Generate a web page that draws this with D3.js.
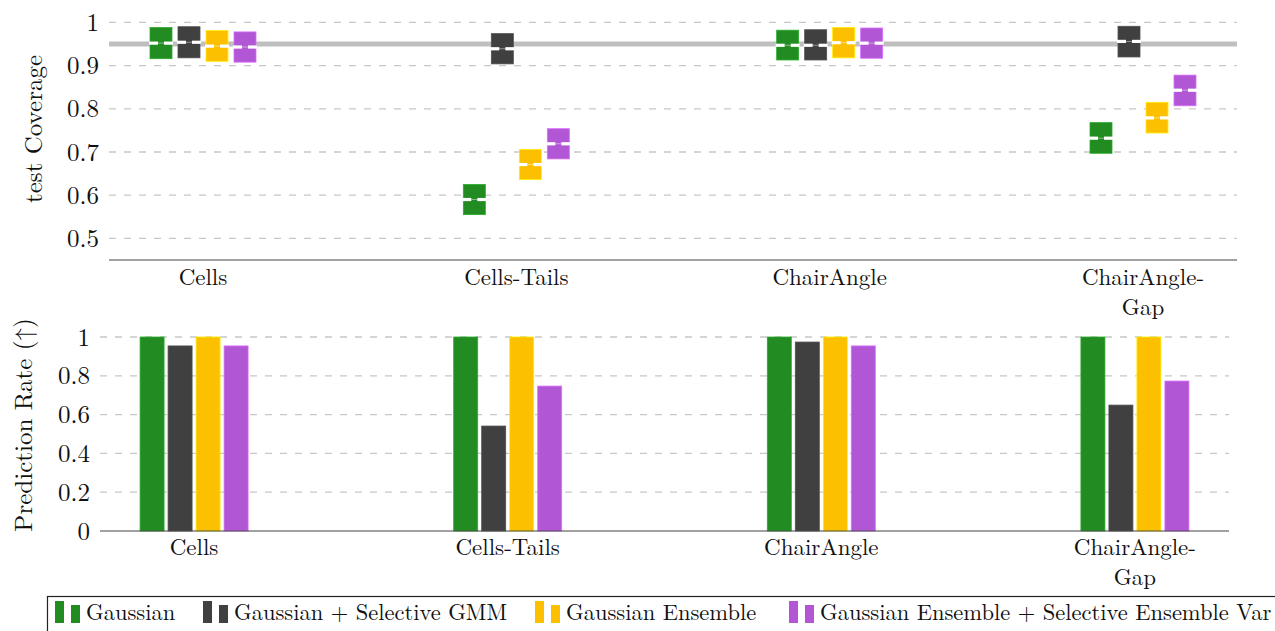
<!DOCTYPE html>
<html><head><meta charset="utf-8">
<script src="https://cdn.jsdelivr.net/npm/d3@7/dist/d3.min.js"></script>
<style>
html,body{margin:0;padding:0;background:#fff;}
svg{display:block;}
</style></head>
<body>
<svg id="chart" width="1275" height="631"></svg>
<script>
// ---------- data ----------
const categories = ["Cells", "Cells-Tails", "ChairAngle", "ChairAngle-Gap"];
const categoryLines = [["Cells"], ["Cells-Tails"], ["ChairAngle"], ["ChairAngle-", "Gap"]];
const seriesNames = ["Gaussian", "Gaussian + Selective GMM", "Gaussian Ensemble", "Gaussian Ensemble + Selective Ensemble Var"];
const seriesColors = ["#228b22", "#404040", "#fcc000", "#b157d6"];

// test coverage: median, low, high per series (one value per category)
const covGaussianMid = [0.952, 0.590, 0.947, 0.732];
const covGaussianLo  = [0.916, 0.555, 0.913, 0.697];
const covGaussianHi  = [0.988, 0.625, 0.982, 0.768];
const covGmmMid = [0.954, 0.939, 0.947, 0.956];
const covGmmLo  = [0.918, 0.904, 0.913, 0.920];
const covGmmHi  = [0.990, 0.974, 0.983, 0.991];
const covEnsMid = [0.945, 0.671, 0.953, 0.779];
const covEnsLo  = [0.910, 0.636, 0.918, 0.744];
const covEnsHi  = [0.981, 0.706, 0.988, 0.815];
const covEnsVarMid = [0.943, 0.719, 0.952, 0.843];
const covEnsVarLo  = [0.908, 0.684, 0.917, 0.807];
const covEnsVarHi  = [0.978, 0.754, 0.987, 0.878];
const targetCoverage = 0.95;

// prediction rate per series
const rateGaussian = [1.0, 1.0, 1.0, 1.0];
const rateGmm      = [0.954, 0.541, 0.974, 0.649];
const rateEns      = [1.0, 1.0, 1.0, 1.0];
const rateEnsVar   = [0.954, 0.747, 0.954, 0.773];

const topTicks = [0.5, 0.6, 0.7, 0.8, 0.9, 1];
const bottomTicks = [0, 0.2, 0.4, 0.6, 0.8, 1];
const topYLabel = "test Coverage";
const bottomYLabel = "Prediction Rate (\u2191)";

// ---------- build ----------
const FONT = '"Latin Modern Roman", "CMU Serif", "Liberation Serif", serif';
const covMid = [covGaussianMid, covGmmMid, covEnsMid, covEnsVarMid];
const covLo = [covGaussianLo, covGmmLo, covEnsLo, covEnsVarLo];
const covHi = [covGaussianHi, covGmmHi, covEnsHi, covEnsVarHi];
const rates = [rateGaussian, rateGmm, rateEns, rateEnsVar];

const svg = d3.select("#chart");
const gridColor = "#c8c8c8";
const axisColor = "#444";
const txt = (sel, size) => sel.style("font-family", FONT).style("font-size", size + "px").attr("fill", "#111");

const sOff = d3.scaleBand().domain(d3.range(seriesNames.length)).range([-56, 56]).padding(0);

// ===== top panel =====
const xTop = d3.scalePoint().domain(categories).range([109, 1237]).padding(0.3);
const yTop = d3.scaleLinear().domain([0.45, 1]).range([260, 22.4]);

const gTop = svg.append("g");
gTop.selectAll("line.grid").data(topTicks).join("line")
  .attr("x1", 109).attr("x2", 1237)
  .attr("y1", d => yTop(d)).attr("y2", d => yTop(d))
  .attr("stroke", gridColor).attr("stroke-width", 1.3).attr("stroke-dasharray", "7,8");

gTop.append("line")
  .attr("x1", 109).attr("x2", 1237)
  .attr("y1", yTop(targetCoverage)).attr("y2", yTop(targetCoverage))
  .attr("stroke", "#bfbfbf").attr("stroke-width", 5);

const yAxisTop = d3.axisLeft(yTop).tickValues(topTicks).tickSize(0).tickPadding(10)
  .tickFormat(d3.format("~g"));
gTop.append("g").attr("transform", "translate(109,0)").call(yAxisTop)
  .call(g => g.select(".domain").remove())
  .call(g => txt(g.selectAll("text"), 25));

gTop.append("line").attr("x1", 109).attr("x2", 1237).attr("y1", 260).attr("y2", 260)
  .attr("stroke", axisColor).attr("stroke-width", 1.2);

categoryLines.forEach((lines, i) => {
  lines.forEach((l, j) => txt(gTop.append("text").attr("x", xTop(categories[i])).attr("y", 285 + j * 30)
    .attr("text-anchor", "middle"), 23).text(l));
});

txt(gTop.append("text").attr("transform", `translate(42,${129}) rotate(-90)`)
  .attr("text-anchor", "middle"), 25).text(topYLabel);

// boxes
const boxW = 22, notchH = 3.2, stemW = 6;
seriesNames.forEach((s, si) => {
  const g = gTop.append("g");
  categories.forEach((c, ci) => {
    const cx = xTop(c) + sOff(si) + sOff.bandwidth() / 2;
    const yHi = yTop(covHi[si][ci]), yLo = yTop(covLo[si][ci]), yM = yTop(covMid[si][ci]);
    g.append("rect").attr("x", cx - boxW / 2).attr("y", yHi).attr("width", boxW).attr("height", yLo - yHi)
      .attr("fill", seriesColors[si]).attr("stroke", d3.color(seriesColors[si]).brighter(0.6)).attr("stroke-width", 0.8);
    g.append("rect").attr("x", cx - boxW / 2 - 1).attr("y", yM - notchH / 2).attr("width", boxW / 2 - stemW / 2 + 1).attr("height", notchH).attr("fill", "#fff");
    g.append("rect").attr("x", cx + stemW / 2).attr("y", yM - notchH / 2).attr("width", boxW / 2 - stemW / 2 + 1).attr("height", notchH).attr("fill", "#fff");
    g.append("line").attr("x1", cx - stemW / 2).attr("x2", cx + stemW / 2).attr("y1", yM).attr("y2", yM)
      .attr("stroke", "#fff").attr("stroke-opacity", 0.45).attr("stroke-width", 1);
  });
});

// ===== bottom panel =====
const xBot = d3.scalePoint().domain(categories).range([100, 1229]).padding(0.3);
const yBot = d3.scaleLinear().domain([0, 1]).range([531, 337]);
const gBot = svg.append("g");

gBot.selectAll("line.grid").data(bottomTicks.filter(d => d > 0)).join("line")
  .attr("x1", 100).attr("x2", 1229)
  .attr("y1", d => yBot(d)).attr("y2", d => yBot(d))
  .attr("stroke", gridColor).attr("stroke-width", 1.3).attr("stroke-dasharray", "7,8");

const yAxisBot = d3.axisLeft(yBot).tickValues(bottomTicks).tickSize(0).tickPadding(10)
  .tickFormat(d3.format("~g"));
gBot.append("g").attr("transform", "translate(100,0)").call(yAxisBot)
  .call(g => g.select(".domain").remove())
  .call(g => txt(g.selectAll("text"), 25));

const barW = 24;
seriesNames.forEach((s, si) => {
  gBot.append("g").selectAll("rect").data(categories).join("rect")
    .attr("x", (c) => xBot(c) + sOff(si) + sOff.bandwidth() / 2 - barW / 2)
    .attr("y", (c, ci) => yBot(rates[si][ci]))
    .attr("width", barW)
    .attr("height", (c, ci) => yBot(0) - yBot(rates[si][ci]))
    .attr("fill", seriesColors[si])
    .attr("stroke", d3.color(seriesColors[si]).brighter(0.6)).attr("stroke-width", 0.8);
});

gBot.append("line").attr("x1", 100).attr("x2", 1229).attr("y1", 531).attr("y2", 531)
  .attr("stroke", axisColor).attr("stroke-width", 1.2);

categoryLines.forEach((lines, i) => {
  lines.forEach((l, j) => txt(gBot.append("text").attr("x", xBot(categories[i])).attr("y", 555 + j * 30)
    .attr("text-anchor", "middle"), 23).text(l));
});

txt(gBot.append("text").attr("transform", `translate(32,${425}) rotate(-90)`)
  .attr("text-anchor", "middle"), 25).text(bottomYLabel);

// ===== legend =====
const gLeg = svg.append("g");
gLeg.append("rect").attr("x", 47.5).attr("y", 596.5).attr("width", 1300).attr("height", 60)
  .attr("fill", "#fff").attr("stroke", "#222").attr("stroke-width", 1.2);
const legX = [55, 203, 535, 789];
seriesNames.forEach((s, si) => {
  const x0 = legX[si];
  gLeg.append("rect").attr("x", x0).attr("y", 601).attr("width", 9).attr("height", 22).attr("fill", seriesColors[si]);
  gLeg.append("rect").attr("x", x0 + 16).attr("y", 605).attr("width", 9).attr("height", 18).attr("fill", seriesColors[si]);
  txt(gLeg.append("text").attr("x", x0 + 31).attr("y", 620), 22.5).text(s);
});
</script>
</body></html>
